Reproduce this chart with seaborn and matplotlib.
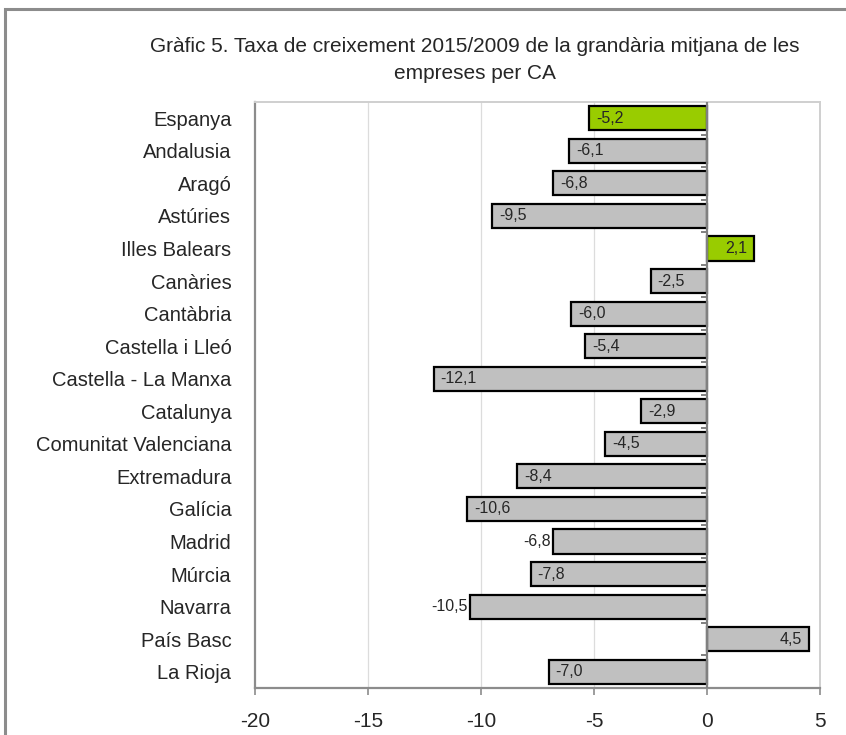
import matplotlib
matplotlib.use("Agg")
import matplotlib.pyplot as plt
import seaborn as sns
import pandas as pd
import numpy as np
from matplotlib.patches import Rectangle

regions = ["Espanya", "Andalusia", "Aragó", "Astúries", "Illes Balears", "Canàries",
           "Cantàbria", "Castella i Lleó", "Castella - La Manxa", "Catalunya",
           "Comunitat Valenciana", "Extremadura", "Galícia", "Madrid", "Múrcia",
           "Navarra", "País Basc", "La Rioja"]
growth = [-5.2, -6.1, -6.8, -9.5, 2.1, -2.5, -6.0, -5.4, -12.1, -2.9,
          -4.5, -8.4, -10.6, -6.8, -7.8, -10.5, 4.5, -7.0]
highlighted = ["Espanya", "Illes Balears"]
outside_labels = ["Madrid", "Navarra"]
x_ticks = [-20, -15, -10, -5, 0, 5]

title = "Gràfic 5. Taxa de creixement 2015/2009 de la grandària mitjana de les\nempreses per CA"

df = pd.DataFrame({"region": regions, "growth": growth})
palette = {r: ("#99CC00" if r in highlighted else "#C0C0C0") for r in regions}

sns.set_theme(style="white")
plt.rcParams["font.family"] = ["Liberation Sans", "DejaVu Sans"]

fig = plt.figure(figsize=(8.46, 7.35), dpi=100)
ax = fig.add_axes([255 / 846, 1 - 688 / 735, 565 / 846, 586 / 735])

# outer chart frame
fig.patches.append(Rectangle((5 / 846, -0.05), 1.1, 1 - 9 / 735 + 0.05,
                             transform=fig.transFigure, fill=False,
                             edgecolor="#8c8c8c", linewidth=2.2, zorder=0))

sns.barplot(data=df, x="growth", y="region", hue="region", palette=palette,
            orient="h", width=0.74, edgecolor="black", linewidth=1.6,
            legend=False, ax=ax, zorder=3, saturation=1)

ax.set_xlim(-20, 5)
ax.set_ylim(len(regions) - 0.5, -0.5)
ax.set_xticks(x_ticks)
ax.set_xticklabels([str(t) for t in x_ticks], fontsize=15)
ax.tick_params(axis="x", length=5, width=1.2, color="#8c8c8c", pad=12, bottom=True)
ax.tick_params(axis="y", length=0, pad=17, labelsize=14.5)
ax.set_xlabel("")
ax.set_ylabel("")

for t in [-15, -10, -5]:
    ax.axvline(t, color="#dcdcdc", linewidth=0.9, zorder=1)

for side in ["top", "right"]:
    ax.spines[side].set_color("#cfcfcf")
    ax.spines[side].set_linewidth(1.4)
for side in ["left", "bottom"]:
    ax.spines[side].set_color("#8c8c8c")
    ax.spines[side].set_linewidth(1.6)

# zero axis with category separators
ax.axvline(0, color="#808080", linewidth=1.6, zorder=4)
bounds = np.arange(len(regions)) - 0.5
ax.hlines(bounds[1:], -0.25, 0, color="#808080", linewidth=1.4, zorder=4)

for i, (r, v) in enumerate(zip(regions, growth)):
    txt = f"{v:.1f}".replace(".", ",")
    if r in outside_labels:
        ax.annotate(txt, (v, i), xytext=(-1.5, 0), textcoords="offset points",
                    ha="right", va="center", fontsize=11.5, zorder=5)
    elif v < 0:
        ax.annotate(txt, (v, i), xytext=(5, 0), textcoords="offset points",
                    ha="left", va="center", fontsize=11.5, zorder=5)
    else:
        ax.annotate(txt, (v, i), xytext=(-5, 0), textcoords="offset points",
                    ha="right", va="center", fontsize=11.5, zorder=5)

fig.text(475 / 846, 1 - 60 / 735, title, ha="center", va="center",
         fontsize=15, linespacing=1.5)

fig.savefig("out.png", dpi=100)
